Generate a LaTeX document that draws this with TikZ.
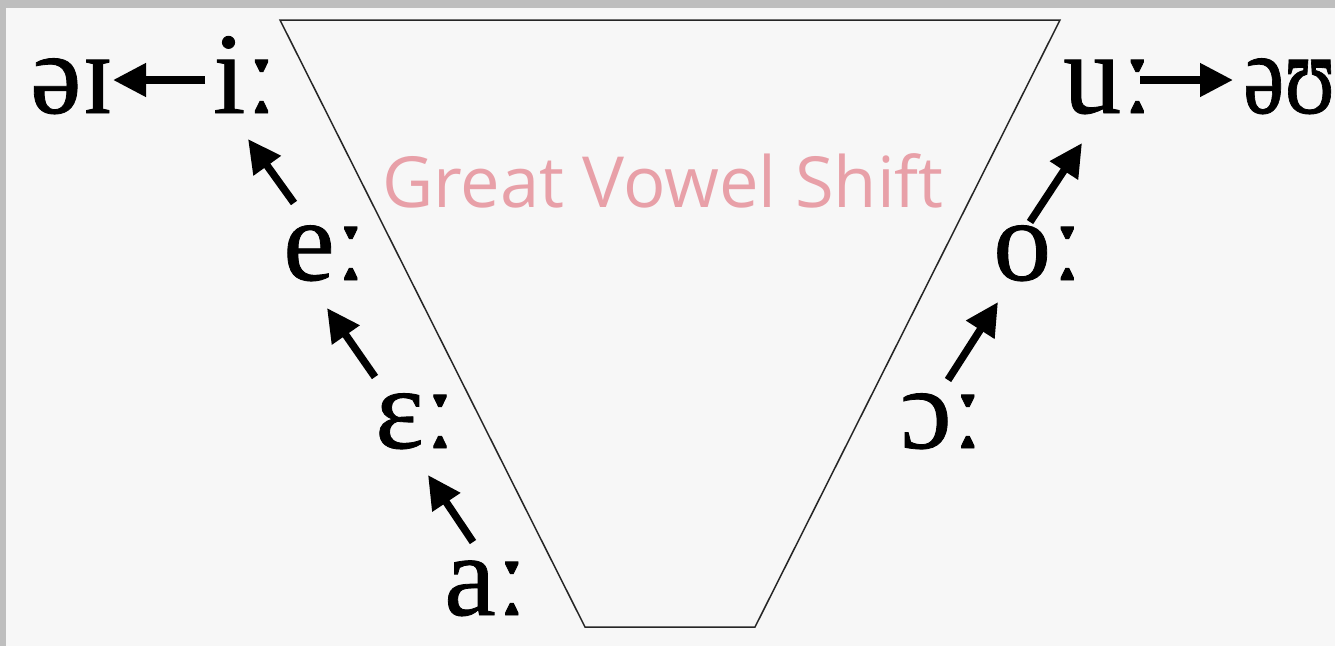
\documentclass[tikz,border=0pt]{standalone}
\usepackage{fontspec}
\setmainfont{Liberation Serif}[FakeBold=0.7]
\newfontfamily\titlefont{Open Sans}
\usetikzlibrary{arrows.meta}
\definecolor{bg}{HTML}{F7F7F7}
\definecolor{framegray}{HTML}{BEBEBE}
\definecolor{titlepink}{HTML}{E8A0A8}
\definecolor{edgegray}{HTML}{262626}
\tikzset{
  vowel/.style={inner sep=0pt, anchor=base west, font=\fontsize{116}{116}\selectfont},
  shiftarrow/.style={line width=7.5pt, -{Triangle[length=33pt,width=32pt]}},
  titletext/.style={inner sep=0pt, anchor=base west, text=titlepink, font=\titlefont\fontsize{70.5}{70.5}\selectfont},
  trap/.style={draw=edgegray, line width=1.5pt},
}
\begin{document}
\begin{tikzpicture}[x=1pt,y=-1pt]
\fill[bg] (0,0) rectangle (1335,646);
\fill[framegray] (0,0) rectangle (1335,8);
\fill[framegray] (0,0) rectangle (6,646);
\useasboundingbox (0,0) rectangle (1335,646);
\draw[trap] (280,20) -- (1060,20) -- (755,627) -- (585,627) -- cycle;
\node[titletext] (title) at (382,207) {Great Vowel Shift};
% left side
\node[vowel] (ai) at (30,113) {əɪ};
\node[vowel] (ii) at (213,113) {iː};
\node[vowel] (ee) at (283,280) {eː};
\node[vowel] (eh) at (375,448) {ɛː};
\node[vowel] (aa) at (444,615) {aː};
% right side
\node[vowel] (uu) at (1063,113) {uː};
\node[vowel, xscale=0.8] (ou) at (1243,113) {əʊ};
\node[vowel] (oo) at (993,280) {oː};
\node[vowel] (oh) at (900,448) {ɔː};
% arrow end points
\coordinate (ii-from) at (205,80);
\coordinate (ai-to) at (113,80);
\coordinate (ee-from) at (294,203);
\coordinate (ii-to) at (248,139);
\coordinate (eh-from) at (375,377);
\coordinate (ee-to) at (327,308);
\coordinate (aa-from) at (473,542);
\coordinate (eh-to) at (428,475);
\coordinate (uu-from) at (1140,80);
\coordinate (ou-to) at (1233,80);
\coordinate (oo-from) at (1030,222);
\coordinate (uu-to) at (1082,143);
\coordinate (oh-from) at (948,380);
\coordinate (oo-to) at (998,302);
\draw[shiftarrow] (ii-from) -- (ai-to);
\draw[shiftarrow] (ee-from) -- (ii-to);
\draw[shiftarrow] (eh-from) -- (ee-to);
\draw[shiftarrow] (aa-from) -- (eh-to);
\draw[shiftarrow] (uu-from) -- (ou-to);
\draw[shiftarrow] (oo-from) -- (uu-to);
\draw[shiftarrow] (oh-from) -- (oo-to);
\end{tikzpicture}
\end{document}
